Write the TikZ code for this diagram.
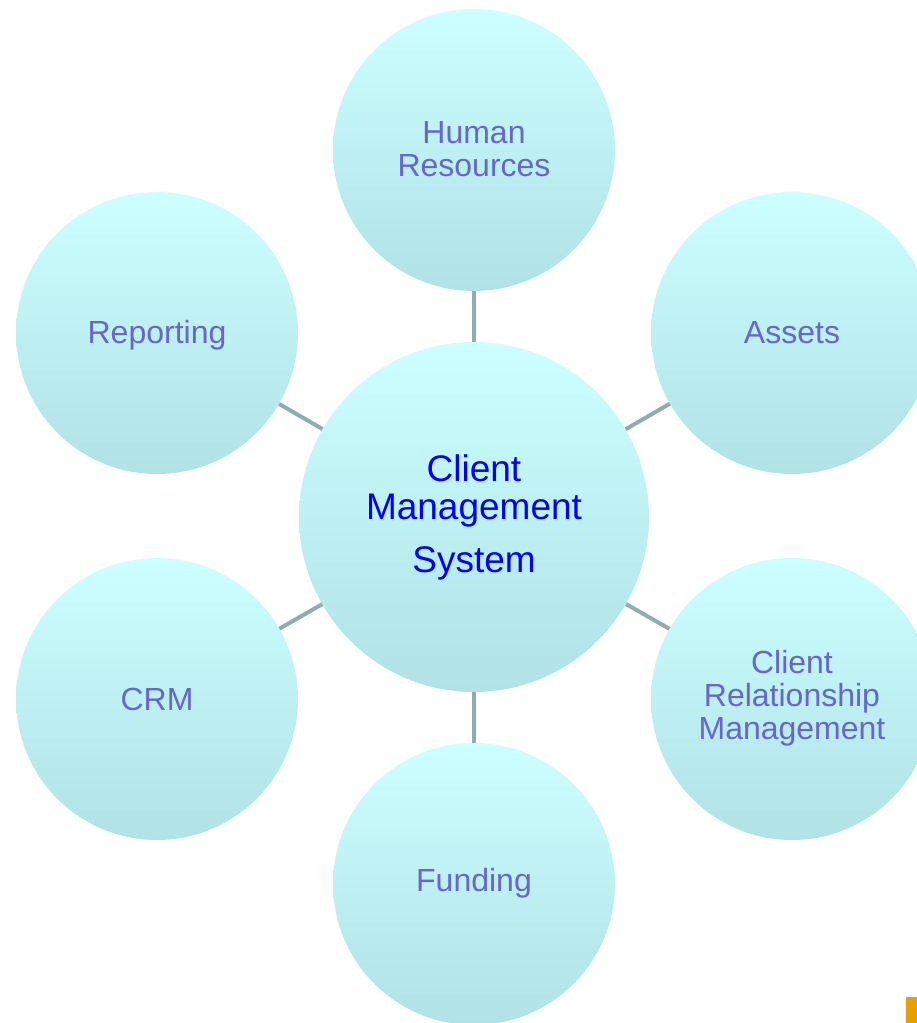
\documentclass[tikz,border=0pt]{standalone}
\usepackage{fontspec}
\setmainfont{Liberation Sans}
\definecolor{bubtop}{RGB}{204,255,255}
\definecolor{bubbot}{RGB}{176,226,230}
\definecolor{conncol}{RGB}{143,172,175}
\definecolor{outtext}{RGB}{102,102,204}
\definecolor{midtext}{RGB}{0,0,255}
\definecolor{orangebar}{RGB}{232,160,0}
\begin{document}
\begin{tikzpicture}[x=1pt,y=-1pt,
  bubble/.style={circle,inner sep=0pt,minimum size=282pt,top color=bubtop,bottom color=bubbot,draw=none},
  bigbubble/.style={bubble,minimum size=350pt},
  outlabel/.style={align=center,text=outtext,font=\fontsize{32}{33}\selectfont},
  midlabel/.style={anchor=base,text=midtext,font=\fontsize{37}{40}\selectfont,inner sep=0pt},
  conn/.style={draw=conncol,line width=4pt}]
\useasboundingbox (0,0) rectangle (917,1023);
\node[bigbubble] (cms) at (474,517) {};
\node[bubble] (hr) at (474,150) {};
\node[bubble] (rep) at (157,333) {};
\node[bubble] (ast) at (792,333) {};
\node[bubble] (crm) at (157,699) {};
\node[bubble] (clr) at (792,699) {};
\node[bubble] (fund) at (474,884) {};
\draw[conn] (cms) -- (hr);
\draw[conn] (cms) -- (rep);
\draw[conn] (cms) -- (ast);
\draw[conn] (cms) -- (crm);
\draw[conn] (cms) -- (clr);
\draw[conn] (cms) -- (fund);
\node[outlabel] (hrt) at (474,149) {Human\\Resources};
\node[outlabel] (rept) at (157,335) {Reporting};
\node[outlabel] (astt) at (792,333) {Assets};
\node[outlabel] (crmt) at (157,699) {CRM};
\node[outlabel] (clrt) at (792,698) {Client\\Relationship\\Management};
\node[outlabel] (fundt) at (474,883) {Funding};
\node[midlabel] (m1) at (474,481) {Client};
\node[midlabel] (m2) at (474,519) {Management};
\node[midlabel] (m3) at (474,572) {System};
\fill[orangebar] (906,997) rectangle (917,1023);
\end{tikzpicture}
\end{document}
